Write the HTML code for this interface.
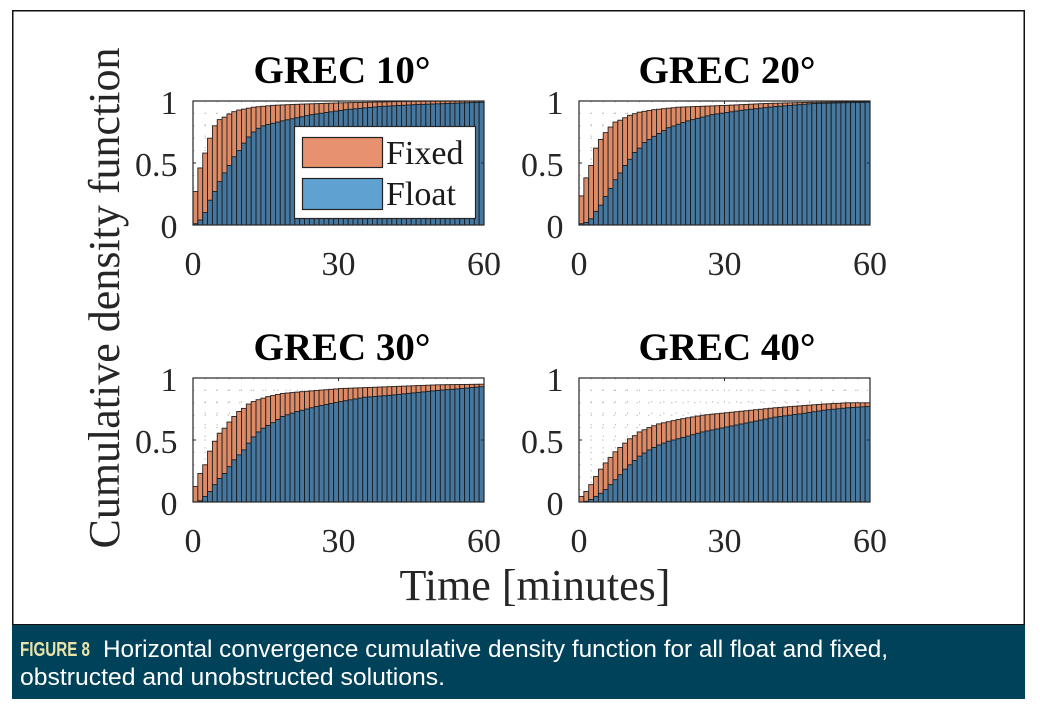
<!DOCTYPE html>
<html>
<head>
<meta charset="utf-8">
<style>
  html,body{margin:0;padding:0;background:#ffffff;}
  body{width:1040px;height:722px;overflow:hidden;position:relative;}
  svg{position:absolute;left:0;top:0;}
  .tk{font-family:"Liberation Serif","DejaVu Serif",serif;font-size:34px;fill:#262626;}
  .ttl{font-family:"Liberation Serif","DejaVu Serif",serif;font-size:39px;font-weight:bold;fill:#000;}
  .lab{font-family:"Liberation Serif","DejaVu Serif",serif;font-size:44px;fill:#262626;}
  .leg{font-family:"Liberation Serif","DejaVu Serif",serif;font-size:34px;fill:#1a1a1a;}
  .cap{font-family:"Liberation Sans","DejaVu Sans",sans-serif;font-size:24px;fill:#ffffff;}
  .fig{font-family:"Liberation Sans","DejaVu Sans",sans-serif;font-size:20px;font-weight:bold;fill:#ebe4a8;}
</style>
</head>
<body>
<svg id="s" width="1040" height="722" viewBox="0 0 1040 722" xmlns="http://www.w3.org/2000/svg">
  <rect x="0" y="0" width="1040" height="722" fill="#ffffff"/>
  <!-- outer frame -->
  <rect x="12.75" y="10.75" width="1011.5" height="614" fill="#ffffff" stroke="#111" stroke-width="1.5"/>
  <!-- caption band -->
  <rect x="12" y="625" width="1013" height="74" fill="#00425a"/>
  <text class="fig" x="20" y="656" textLength="70" lengthAdjust="spacingAndGlyphs">FIGURE 8</text>
  <text class="cap" x="103" y="657" textLength="785" lengthAdjust="spacingAndGlyphs">Horizontal convergence cumulative density function for all float and fixed,</text>
  <text class="cap" x="20" y="685" textLength="425" lengthAdjust="spacingAndGlyphs">obstructed and unobstructed solutions.</text>

  <g id="plots"></g>

  <!-- titles -->
  <text class="ttl" x="342" y="83" text-anchor="middle">GREC 10°</text>
  <text class="ttl" x="727" y="83" text-anchor="middle">GREC 20°</text>
  <text class="ttl" x="342" y="360" text-anchor="middle">GREC 30°</text>
  <text class="ttl" x="727" y="360" text-anchor="middle">GREC 40°</text>

  <!-- axis labels -->
  <text class="lab" transform="translate(119,298) rotate(-90)" text-anchor="middle">Cumulative density function</text>
  <text class="lab" x="535" y="600" text-anchor="middle">Time [minutes]</text>
</svg>
<script>
(function(){
  var panels=[
    {x:193,y:101,w:291,h:124,
     fx:[[0,.27],[1,.46],[2,.58],[3,.70],[4,.80],[5,.85],[6,.87],[7,.895],[8,.914],[9,.927],[12,.95],[16,.965],[22,.975],[30,.985],[45,.998],[59,1]],
     fl:[[0,.01],[1,.04],[2,.10],[3,.20],[4,.27],[5,.35],[6,.42],[7,.48],[8,.55],[9,.60],[10,.66],[11,.71],[12,.75],[13,.78],[14,.80],[18,.84],[24,.89],[31,.93],[38,.955],[45,.97],[52,.98],[59,.99]]},
    {x:579,y:101,w:291,h:124,
     fx:[[0,.235],[1,.38],[2,.48],[3,.62],[4,.69],[5,.745],[6,.79],[7,.83],[8,.845],[9,.865],[10,.885],[12,.91],[15,.93],[20,.95],[30,.965],[38,.98],[48,.99],[59,.995]],
     fl:[[0,.01],[1,.02],[2,.05],[3,.11],[4,.16],[5,.23],[6,.295],[7,.365],[8,.42],[9,.48],[10,.53],[11,.585],[12,.62],[13,.665],[15,.715],[18,.785],[22,.84],[27,.89],[33,.925],[40,.955],[48,.98],[59,.99]]},
    {x:193,y:378,w:291,h:124,
     fx:[[0,.125],[1,.23],[2,.30],[3,.41],[4,.49],[5,.555],[6,.595],[7,.645],[8,.69],[9,.73],[10,.755],[11,.79],[12,.81],[13,.825],[15,.85],[18,.875],[22,.89],[30,.915],[40,.93],[50,.945],[59,.95]],
     fl:[[0,0],[1,.01],[2,.045],[3,.085],[4,.14],[5,.19],[6,.23],[7,.285],[8,.34],[9,.38],[10,.42],[11,.475],[12,.525],[13,.565],[14,.595],[16,.64],[18,.69],[21,.73],[25,.77],[30,.81],[35,.845],[40,.86],[45,.88],[50,.9],[55,.915],[59,.93]]},
    {x:579,y:378,w:291,h:124,
     fx:[[0,.045],[1,.085],[2,.14],[3,.205],[4,.265],[5,.315],[6,.36],[7,.405],[8,.44],[9,.475],[10,.51],[11,.535],[12,.565],[14,.6],[16,.63],[20,.665],[25,.70],[30,.72],[35,.74],[40,.76],[45,.775],[50,.79],[55,.80],[59,.80]],
     fl:[[0,0],[1,.005],[2,.02],[3,.045],[4,.07],[5,.10],[6,.14],[7,.18],[8,.22],[9,.265],[10,.30],[11,.335],[12,.37],[14,.42],[16,.46],[18,.49],[20,.51],[25,.565],[30,.605],[35,.645],[40,.685],[45,.71],[50,.74],[55,.76],[59,.77]]}
  ];
  function interp(kp,i){
    for(var k=0;k<kp.length-1;k++){
      if(i>=kp[k][0]&&i<=kp[k+1][0]){
        var t=(i-kp[k][0])/(kp[k+1][0]-kp[k][0]);
        return kp[k][1]+t*(kp[k+1][1]-kp[k][1]);
      }
    }
    return kp[kp.length-1][1];
  }
  var s='';
  panels.forEach(function(p,pi){
    var X=p.x,Y=p.y,W=p.w,H=p.h,bw=W/60,i,v;
    s+='<rect x="'+X+'" y="'+Y+'" width="'+W+'" height="'+H+'" fill="#fff"/>';
    // grid
    for(i=1;i<10;i++){
      var gy=(Y+H*(1-i/10)).toFixed(2);
      s+='<line x1="'+X+'" y1="'+gy+'" x2="'+(X+W)+'" y2="'+gy+'" stroke="#bdbdbd" stroke-width="1" stroke-dasharray="1.5,10"/>';
    }
    for(i=1;i<24;i++){
      var gx=(X+i*W/24).toFixed(2);
      s+='<line x1="'+gx+'" y1="'+Y+'" x2="'+gx+'" y2="'+(Y+H)+'" stroke="#bdbdbd" stroke-width="1" stroke-dasharray="1.5,10"/>';
    }
    // fixed bars
    for(i=0;i<60;i++){
      v=interp(p.fx,i);
      s+='<rect x="'+(X+i*bw).toFixed(2)+'" y="'+(Y+H*(1-v)).toFixed(2)+'" width="'+bw.toFixed(2)+'" height="'+(H*v).toFixed(2)+'" fill="#dd8b67" stroke="#261e1b" stroke-width="0.9"/>';
    }
    // float bars
    for(i=0;i<60;i++){
      v=interp(p.fl,i);
      s+='<rect x="'+(X+i*bw).toFixed(2)+'" y="'+(Y+H*(1-v)).toFixed(2)+'" width="'+bw.toFixed(2)+'" height="'+(H*v).toFixed(2)+'" fill="#47779c" stroke="#161d24" stroke-width="0.9"/>';
    }
    // axes box
    s+='<rect x="'+X+'" y="'+Y+'" width="'+W+'" height="'+H+'" fill="none" stroke="#262626" stroke-width="1.2"/>';
    // ticks
    var mx=X+W/2, my=Y+H/2;
    s+='<line x1="'+mx+'" y1="'+Y+'" x2="'+mx+'" y2="'+(Y+3)+'" stroke="#262626" stroke-width="1"/>';
    s+='<line x1="'+mx+'" y1="'+(Y+H)+'" x2="'+mx+'" y2="'+(Y+H-3)+'" stroke="#262626" stroke-width="1"/>';
    s+='<line x1="'+X+'" y1="'+my+'" x2="'+(X+3)+'" y2="'+my+'" stroke="#262626" stroke-width="1"/>';
    s+='<line x1="'+(X+W)+'" y1="'+my+'" x2="'+(X+W-3)+'" y2="'+my+'" stroke="#262626" stroke-width="1"/>';
    // tick labels
    var ax=X-15.5;
    s+='<text class="tk" x="'+ax+'" y="'+(Y+13)+'" text-anchor="end">1</text>';
    s+='<text class="tk" x="'+ax+'" y="'+(Y+H/2+13)+'" text-anchor="end">0.5</text>';
    s+='<text class="tk" x="'+ax+'" y="'+(Y+H+13)+'" text-anchor="end">0</text>';
    var by=Y+174;
    s+='<text class="tk" x="'+X+'" y="'+by+'" text-anchor="middle">0</text>';
    s+='<text class="tk" x="'+mx+'" y="'+by+'" text-anchor="middle">30</text>';
    s+='<text class="tk" x="'+(X+W)+'" y="'+by+'" text-anchor="middle">60</text>';
  });
  // legend
  s+='<rect x="294.5" y="126.5" width="181" height="92" fill="#ffffff" stroke="#262626" stroke-width="1.2"/>';
  s+='<rect x="302.5" y="137.5" width="80" height="30" fill="#e8916f" stroke="#222" stroke-width="1.2"/>';
  s+='<rect x="302.5" y="178.5" width="80" height="31" fill="#5fa2d1" stroke="#222" stroke-width="1.2"/>';
  s+='<text class="leg" x="386" y="164">Fixed</text>';
  s+='<text class="leg" x="386" y="205">Float</text>';
  document.getElementById('plots').innerHTML=s;
})();
</script>
</body>
</html>
